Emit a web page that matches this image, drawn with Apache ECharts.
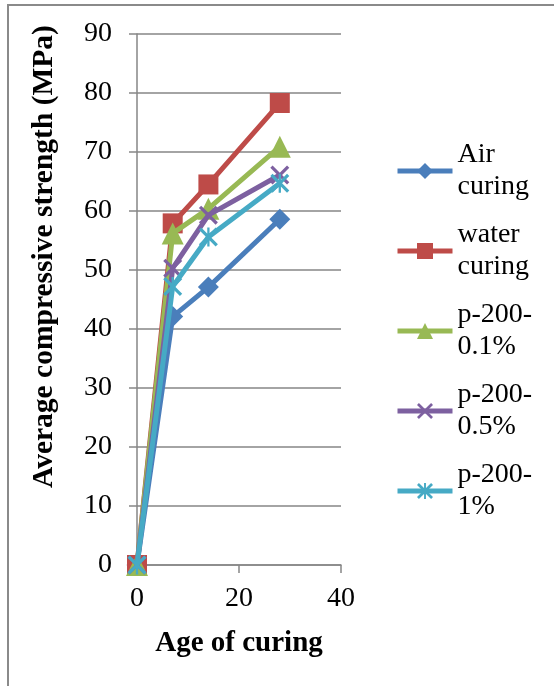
<!DOCTYPE html>
<html><head><meta charset="utf-8">
<script src="https://cdn.jsdelivr.net/npm/echarts@6/dist/echarts.min.js"></script>
<style>html,body{margin:0;padding:0;background:#fff}#c{width:554px;height:686px}</style>
</head><body><div id="c"></div>
<script>
const ages = [0, 7, 14, 28];
const seriesNames = ['Air curing', 'water curing', 'p-200-0.1%', 'p-200-0.5%', 'p-200-1%'];
const legendLines = [['Air', 'curing'], ['water', 'curing'], ['p-200-', '0.1%'], ['p-200-', '0.5%'], ['p-200-', '1%']];
const airCuring = [0, 42.1, 47.1, 58.6];
const waterCuring = [0, 57.9, 64.5, 78.3];
const p200_01 = [0, 56.2, 60.4, 70.9];
const p200_05 = [0, 50.3, 59.3, 66.1];
const p200_1 = [0, 47.2, 55.6, 64.7];
const xTicks = { min: 0, max: 40, interval: 20 };
const yTicks = { min: 0, max: 90, interval: 10 };

const values = [airCuring, waterCuring, p200_01, p200_05, p200_1];
const colors = ['#4A7EBB', '#BE4B48', '#98B954', '#7D60A0', '#46AAC5'];
const xPath = 'path://M0,1.2 L1.2,0 L5,3.8 L8.8,0 L10,1.2 L6.2,5 L10,8.8 L8.8,10 L5,6.2 L1.2,10 L0,8.8 L3.8,5 Z';
const starPath = 'path://M0,1.2 L1.2,0 L5,3.8 L8.8,0 L10,1.2 L6.2,5 L10,8.8 L8.8,10 L5,6.2 L1.2,10 L0,8.8 L3.8,5 Z M4.4,0 L5.6,0 L5.6,10 L4.4,10 Z';
const symbols = ['diamond', 'rect', 'triangle', xPath, starPath];
const symbolSizes = [21, 20, 22, 19, 19];

const font = '"Liberation Serif", "Times New Roman", serif';
const chart = echarts.init(document.getElementById('c'));
chart.setOption({
  animation: false,
  backgroundColor: '#fff',
  graphic: [{ type: 'rect', shape: { x: 8, y: 5, width: 700, height: 800 }, style: { fill: 'none', stroke: '#8a8a8a', lineWidth: 2 }, silent: true }],
  grid: { left: 137, right: 213, top: 34, bottom: 121 },
  xAxis: {
    type: 'value', min: xTicks.min, max: xTicks.max, interval: xTicks.interval,
    name: 'Age of curing', nameLocation: 'middle', nameGap: 64,
    nameTextStyle: { fontFamily: font, fontWeight: 'bold', fontSize: 29, color: '#000' },
    axisLine: { show: true, lineStyle: { color: '#868686', width: 1.5 } },
    axisTick: { show: true, length: 8, lineStyle: { color: '#868686', width: 1.5 } },
    axisLabel: { fontFamily: font, fontSize: 28, color: '#000', margin: 20 },
    splitLine: { show: false }
  },
  yAxis: {
    type: 'value', min: yTicks.min, max: yTicks.max, interval: yTicks.interval,
    name: 'Average compressive strength (MPa)', nameLocation: 'middle', nameGap: 78,
    nameTextStyle: { fontFamily: font, fontWeight: 'bold', fontSize: 29.5, color: '#000', padding: [0, 0, 0, 86] },
    axisLine: { show: true, lineStyle: { color: '#868686', width: 1.5 } },
    axisTick: { show: true, length: 8, lineStyle: { color: '#868686', width: 1.5 } },
    axisLabel: { fontFamily: font, fontSize: 28, color: '#000', margin: 25 },
    splitLine: { show: true, lineStyle: { color: '#868686', width: 1.5 } }
  },
  legend: {
    orient: 'vertical', left: 395, top: 123, padding: 0, itemGap: -16,
    itemWidth: 55, itemHeight: 20,
    data: seriesNames,
    lineStyle: { width: 5 },
    formatter: function (name) { return legendLines[seriesNames.indexOf(name)].join('\n'); },
    textStyle: { fontFamily: font, fontSize: 28, color: '#000', lineHeight: 32, padding: [32, 0, 0, 0] }
  },
  series: seriesNames.map((n, i) => ({
    name: n, type: 'line',
    data: ages.map((a, j) => [a, values[i][j]]),
    symbol: symbols[i], symbolSize: symbolSizes[i],
    lineStyle: { color: colors[i], width: 5 },
    itemStyle: { color: colors[i] },
    z: 2 + i
  }))
});
</script></body></html>
